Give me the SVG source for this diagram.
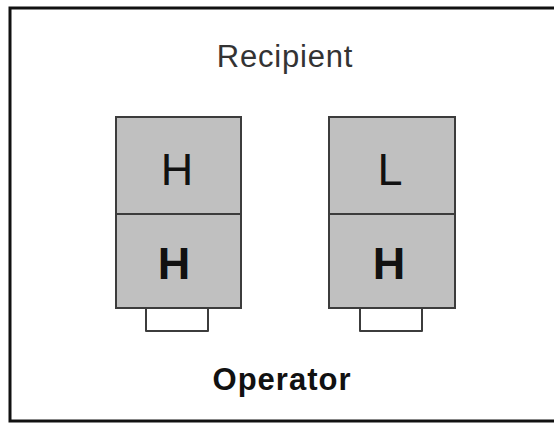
<svg xmlns="http://www.w3.org/2000/svg" width="554" height="423" viewBox="0 0 554 423">
<style>
.cell{fill:#c0c0c0;stroke:#3c3c3c;stroke-width:2}
.tab{fill:#ffffff;stroke:#3c3c3c;stroke-width:2;stroke-linejoin:round}
.t{font-family:"Liberation Sans",Arial,sans-serif;text-anchor:middle;fill:#111}
.big{font-size:45px}
.bold{font-weight:bold}
</style>
<rect x="0" y="0" width="554" height="423" fill="#ffffff"/>
<rect x="10" y="8" width="550" height="413" fill="none" stroke="#111" stroke-width="3"/>
<text class="t" x="285" y="67" font-size="31" letter-spacing="0.8" fill="#333" style="fill:#333">Recipient</text>
<g id="left">
<path class="tab" d="M146,308 V331 H208 V308"/>
<rect class="cell" x="116" y="117" width="125" height="97"/>
<rect class="cell" x="116" y="214" width="125" height="94"/>
<text class="t big" x="177" y="185">H</text>
<text class="t big bold" x="174" y="279">H</text>
</g>
<g id="right">
<path class="tab" d="M360,308 V331 H422 V308"/>
<rect class="cell" x="329" y="117" width="126" height="97"/>
<rect class="cell" x="329" y="214" width="126" height="94"/>
<text class="t big" x="390" y="185">L</text>
<text class="t big bold" x="389" y="279">H</text>
</g>
<g id="connectors"></g>
<text class="t bold" x="282" y="390" font-size="31" letter-spacing="1">Operator</text>
</svg>
